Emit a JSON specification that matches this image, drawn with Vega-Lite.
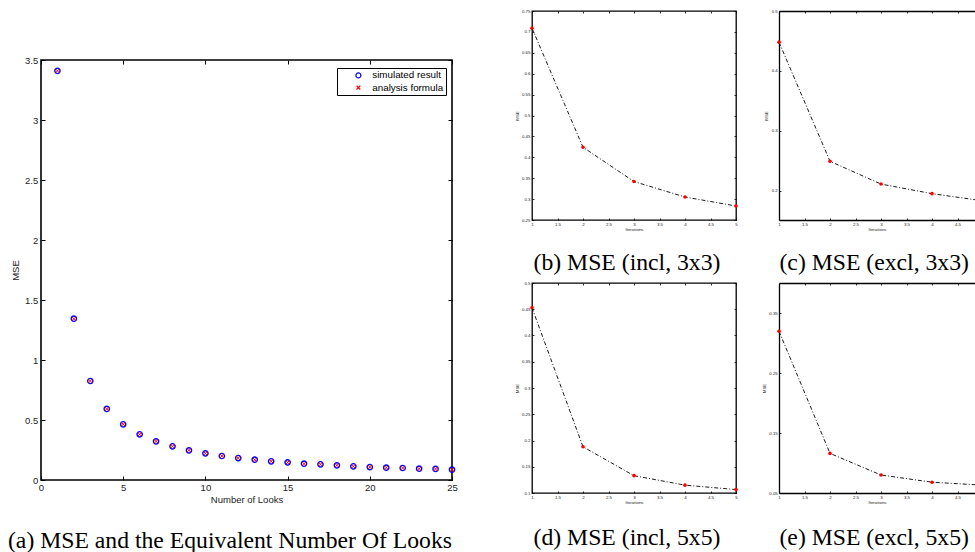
{
  "$schema": "https://vega.github.io/schema/vega-lite/v6.json",
  "padding": {"left": 7, "top": 7, "right": 0, "bottom": 0},
  "background": "white",
  "config": {
    "font": "Liberation Sans",
    "view": {"stroke": "black", "strokeWidth": 1.3},
    "axis": {"grid": false, "domain": false, "labelColor": "#222", "titleColor": "#222", "tickColor": "black", "titleFontWeight": "normal", "labelFlush": false, "labelOverlap": false, "labelFont": "Liberation Sans", "titleFont": "Liberation Sans"},
    "legend": {"symbolOffset": 14},
    "title": {"font": "Liberation Serif", "fontSize": 23.7, "fontWeight": "normal", "color": "black", "orient": "bottom", "frame": "group", "anchor": "middle"}
  },
  "datasets": {
    "looks": [
      {"L": 1, "mse": 3.41, "series": "simulated result"},
      {"L": 2, "mse": 1.344, "series": "simulated result"},
      {"L": 3, "mse": 0.825, "series": "simulated result"},
      {"L": 4, "mse": 0.592, "series": "simulated result"},
      {"L": 5, "mse": 0.464, "series": "simulated result"},
      {"L": 6, "mse": 0.381, "series": "simulated result"},
      {"L": 7, "mse": 0.322, "series": "simulated result"},
      {"L": 8, "mse": 0.281, "series": "simulated result"},
      {"L": 9, "mse": 0.247, "series": "simulated result"},
      {"L": 10, "mse": 0.222, "series": "simulated result"},
      {"L": 11, "mse": 0.2, "series": "simulated result"},
      {"L": 12, "mse": 0.183, "series": "simulated result"},
      {"L": 13, "mse": 0.169, "series": "simulated result"},
      {"L": 14, "mse": 0.156, "series": "simulated result"},
      {"L": 15, "mse": 0.147, "series": "simulated result"},
      {"L": 16, "mse": 0.136, "series": "simulated result"},
      {"L": 17, "mse": 0.131, "series": "simulated result"},
      {"L": 18, "mse": 0.122, "series": "simulated result"},
      {"L": 19, "mse": 0.114, "series": "simulated result"},
      {"L": 20, "mse": 0.108, "series": "simulated result"},
      {"L": 21, "mse": 0.103, "series": "simulated result"},
      {"L": 22, "mse": 0.1, "series": "simulated result"},
      {"L": 23, "mse": 0.094, "series": "simulated result"},
      {"L": 24, "mse": 0.092, "series": "simulated result"},
      {"L": 25, "mse": 0.086, "series": "simulated result"},
      {"L": 1, "mse": 3.41, "series": "analysis formula"},
      {"L": 2, "mse": 1.344, "series": "analysis formula"},
      {"L": 3, "mse": 0.825, "series": "analysis formula"},
      {"L": 4, "mse": 0.592, "series": "analysis formula"},
      {"L": 5, "mse": 0.464, "series": "analysis formula"},
      {"L": 6, "mse": 0.381, "series": "analysis formula"},
      {"L": 7, "mse": 0.322, "series": "analysis formula"},
      {"L": 8, "mse": 0.281, "series": "analysis formula"},
      {"L": 9, "mse": 0.247, "series": "analysis formula"},
      {"L": 10, "mse": 0.222, "series": "analysis formula"},
      {"L": 11, "mse": 0.2, "series": "analysis formula"},
      {"L": 12, "mse": 0.183, "series": "analysis formula"},
      {"L": 13, "mse": 0.169, "series": "analysis formula"},
      {"L": 14, "mse": 0.156, "series": "analysis formula"},
      {"L": 15, "mse": 0.147, "series": "analysis formula"},
      {"L": 16, "mse": 0.136, "series": "analysis formula"},
      {"L": 17, "mse": 0.131, "series": "analysis formula"},
      {"L": 18, "mse": 0.122, "series": "analysis formula"},
      {"L": 19, "mse": 0.114, "series": "analysis formula"},
      {"L": 20, "mse": 0.108, "series": "analysis formula"},
      {"L": 21, "mse": 0.103, "series": "analysis formula"},
      {"L": 22, "mse": 0.1, "series": "analysis formula"},
      {"L": 23, "mse": 0.094, "series": "analysis formula"},
      {"L": 24, "mse": 0.092, "series": "analysis formula"},
      {"L": 25, "mse": 0.086, "series": "analysis formula"}
    ],
    "b": [{"it": 1, "mse": 0.709}, {"it": 2, "mse": 0.424}, {"it": 3, "mse": 0.342}, {"it": 4, "mse": 0.305}, {"it": 5, "mse": 0.2835}],
    "c": [{"it": 1, "mse": 0.448}, {"it": 2, "mse": 0.249}, {"it": 3, "mse": 0.211}, {"it": 4, "mse": 0.195}, {"it": 5, "mse": 0.183}],
    "d": [{"it": 1, "mse": 0.453}, {"it": 2, "mse": 0.188}, {"it": 3, "mse": 0.133}, {"it": 4, "mse": 0.115}, {"it": 5, "mse": 0.1065}],
    "e": [{"it": 1, "mse": 0.3196}, {"it": 2, "mse": 0.116}, {"it": 3, "mse": 0.08}, {"it": 4, "mse": 0.068}, {"it": 5, "mse": 0.063}]
  },
  "bounds": "flush",
  "spacing": 491,
  "hconcat": [
    {
      "bounds": "flush",
      "spacing": 48,
      "vconcat": [
        {"width": 1, "height": 1, "data": {"values": []}, "mark": {"type": "point"}, "encoding": {}, "view": {"stroke": null}},
        {
          "width": 411, "height": 420,
          "view": {"stroke": "black", "strokeWidth": 1.6},
          "data": {"name": "looks"},
          "title": {"text": "(a) MSE and the Equivalent Number Of Looks", "offset": 24.9, "dx": -16.5},
          "layer": [
            {
              "transform": [{"filter": "datum.series == 'simulated result'"}],
              "mark": {"type": "point", "filled": false, "size": 28, "strokeWidth": 1.4, "opacity": 1},
              "encoding": {
                "x": {"field": "L", "type": "quantitative", "scale": {"domain": [0, 25], "nice": false, "zero": false},
                      "axis": {"orient": "bottom", "values": [0, 5, 10, 15, 20, 25], "format": "~g", "labelFontSize": 9.5, "tickSize": -4, "labelPadding": 6.9, "title": "Number of Looks", "titleFontSize": 9.5, "titlePadding": 2.5}},
                "y": {"field": "mse", "type": "quantitative", "scale": {"domain": [0, 3.5], "nice": false, "zero": false},
                      "axis": {"orient": "left", "values": [0, 0.5, 1, 1.5, 2, 2.5, 3, 3.5], "format": ".1~f", "labelFontSize": 9.5, "tickSize": -4, "labelPadding": 7.3, "title": "MSE", "titleFontSize": 9.5, "titlePadding": 3.5}},
                "color": {"field": "series", "type": "nominal", "scale": {"domain": ["simulated result", "analysis formula"], "range": ["#0000ff", "#ff0000"]},
                          "legend": {"orient": "none", "legendX": 296, "legendY": 57, "title": null, "strokeColor": "black", "fillColor": "white", "padding": 2.5, "rowPadding": 1.2, "labelFontSize": 9.8, "labelColor": "black", "symbolOffset": 14, "labelOffset": 9, "symbolSize": 25, "symbolStrokeWidth": 1.2}},
                "shape": {"field": "series", "type": "nominal", "scale": {"domain": ["simulated result", "analysis formula"], "range": ["circle", "M-0.75,-0.75L0.75,0.75M-0.75,0.75L0.75,-0.75"]},
                          "legend": {"orient": "none", "legendX": 296, "legendY": 57, "title": null, "strokeColor": "black", "fillColor": "white", "padding": 2.5, "rowPadding": 1.2, "labelFontSize": 9.8, "labelColor": "black", "symbolOffset": 14, "labelOffset": 9, "symbolSize": 25, "symbolStrokeWidth": 1.2}}
              }
            },
            {
              "transform": [{"filter": "datum.series == 'analysis formula'"}],
              "mark": {"type": "point", "filled": false, "size": 28, "strokeWidth": 1, "opacity": 1},
              "encoding": {
                "x": {"field": "L", "type": "quantitative", "scale": {"domain": [0, 25], "nice": false, "zero": false},
                      "axis": {"orient": "top", "values": [0, 5, 10, 15, 20, 25], "labels": false, "tickSize": -4, "title": null}},
                "y": {"field": "mse", "type": "quantitative", "scale": {"domain": [0, 3.5], "nice": false, "zero": false},
                      "axis": {"orient": "right", "values": [0, 0.5, 1, 1.5, 2, 2.5, 3, 3.5], "labels": false, "tickSize": -4, "title": null}},
                "color": {"field": "series", "type": "nominal", "scale": {"domain": ["simulated result", "analysis formula"], "range": ["#0000ff", "#ff0000"]},
                          "legend": {"orient": "none", "legendX": 296, "legendY": 57, "title": null, "strokeColor": "black", "fillColor": "white", "padding": 2.5, "rowPadding": 1.2, "labelFontSize": 9.8, "labelColor": "black", "symbolOffset": 14, "labelOffset": 9, "symbolSize": 25, "symbolStrokeWidth": 1.2}},
                "shape": {"field": "series", "type": "nominal", "scale": {"domain": ["simulated result", "analysis formula"], "range": ["circle", "M-0.75,-0.75L0.75,0.75M-0.75,0.75L0.75,-0.75"]},
                          "legend": {"orient": "none", "legendX": 296, "legendY": 57, "title": null, "strokeColor": "black", "fillColor": "white", "padding": 2.5, "rowPadding": 1.2, "labelFontSize": 9.8, "labelColor": "black", "symbolOffset": 14, "labelOffset": 9, "symbolSize": 25, "symbolStrokeWidth": 1.2}}
              }
            }
          ]
        }
      ]
    },
    {
      "bounds": "flush",
      "spacing": 272,
      "vconcat": [
        {
          "bounds": "flush",
          "spacing": 43,
          "hconcat": [
            {
              "width": 204, "height": 209,
              "data": {"name": "b"},
              "title": {"text": "(b) MSE (incl, 3x3)", "offset": 20.3, "dx": -7},
              "layer": [
                {
                  "mark": {"type": "line", "color": "black", "strokeWidth": 0.9, "strokeDash": [4, 2, 1, 2]},
                  "encoding": {
                    "x": {"field": "it", "type": "quantitative", "scale": {"domain": [1, 5], "nice": false, "zero": false},
                          "axis": {"orient": "bottom", "values": [1, 1.5, 2, 2.5, 3, 3.5, 4, 4.5, 5], "format": ".1~f", "labelFontSize": 4.4, "labelOverlap": false, "tickSize": -2, "tickWidth": 0.8, "labelPadding": 4.2, "title": "Iterations", "titleFontSize": 4.4, "titlePadding": 1.6}},
                    "y": {"field": "mse", "type": "quantitative", "scale": {"domain": [0.25, 0.75], "nice": false, "zero": false},
                          "axis": {"orient": "left", "values": [0.25, 0.3, 0.35, 0.4, 0.45, 0.5, 0.55, 0.6, 0.65, 0.7, 0.75], "format": ".2~f", "labelFontSize": 4.4, "labelOverlap": false, "tickSize": -2, "tickWidth": 0.8, "labelPadding": 4, "title": "MSE", "titleFontSize": 4.4, "titlePadding": 2.4}}
                  }
                },
                {
                  "mark": {"type": "point", "filled": true, "color": "#ff0000", "size": 13, "opacity": 1},
                  "encoding": {
                    "x": {"field": "it", "type": "quantitative", "scale": {"domain": [1, 5], "nice": false, "zero": false},
                          "axis": {"orient": "top", "values": [1, 1.5, 2, 2.5, 3, 3.5, 4, 4.5, 5], "labels": false, "tickSize": -2, "tickWidth": 0.8, "title": null}},
                    "y": {"field": "mse", "type": "quantitative", "scale": {"domain": [0.25, 0.75], "nice": false, "zero": false},
                          "axis": {"orient": "right", "values": [0.25, 0.3, 0.35, 0.4, 0.45, 0.5, 0.55, 0.6, 0.65, 0.7, 0.75], "labels": false, "tickSize": -2, "tickWidth": 0.8, "title": null}}
                  }
                }
              ]
            },
            {
              "width": 196, "height": 209,
              "view": {"stroke": null},
              "data": {"name": "c"},
              "title": {"text": "(c) MSE (excl, 3x3)", "offset": 20.3, "dx": -2.8},
              "layer": [
                {
                  "mark": {"type": "line", "color": "black", "strokeWidth": 0.9, "strokeDash": [4, 2, 1, 2], "clip": true},
                  "encoding": {
                    "x": {"field": "it", "type": "quantitative", "scale": {"domain": [1, 4.843], "nice": false, "zero": false},
                          "axis": {"orient": "bottom", "values": [1, 1.5, 2, 2.5, 3, 3.5, 4, 4.5], "format": ".1~f", "labelFontSize": 4.4, "labelOverlap": false, "tickSize": -2, "tickWidth": 0.8, "labelPadding": 4.2, "title": "Iterations", "titleFontSize": 4.4, "titlePadding": 1.6, "domain": true, "domainColor": "black", "domainWidth": 1.3}},
                    "y": {"field": "mse", "type": "quantitative", "scale": {"domain": [0.151, 0.5], "nice": false, "zero": false},
                          "axis": {"orient": "left", "values": [0.2, 0.25, 0.3, 0.35, 0.4, 0.45, 0.5], "format": ".2~f", "labelFontSize": 4.4, "labelOverlap": false, "tickSize": -2, "tickWidth": 0.8, "labelPadding": 3.7, "title": "MSE", "titleFontSize": 4.4, "titlePadding": 2.4, "domain": true, "domainColor": "black", "domainWidth": 1.3}}
                  }
                },
                {
                  "transform": [{"filter": "datum.it < 5"}],
                  "mark": {"type": "point", "filled": true, "color": "#ff0000", "size": 13, "opacity": 1},
                  "encoding": {
                    "x": {"field": "it", "type": "quantitative", "scale": {"domain": [1, 4.843], "nice": false, "zero": false},
                          "axis": {"orient": "top", "values": [1, 1.5, 2, 2.5, 3, 3.5, 4, 4.5], "labels": false, "tickSize": -2, "tickWidth": 0.8, "title": null, "domain": true, "domainColor": "black", "domainWidth": 1.3}},
                    "y": {"field": "mse", "type": "quantitative", "scale": {"domain": [0.151, 0.5], "nice": false, "zero": false}}
                  }
                }
              ]
            }
          ]
        },
        {
          "bounds": "flush",
          "spacing": 43,
          "hconcat": [
            {
              "width": 204, "height": 210,
              "data": {"name": "d"},
              "title": {"text": "(d) MSE (incl, 5x5)", "offset": 22.3, "dx": -7},
              "layer": [
                {
                  "mark": {"type": "line", "color": "black", "strokeWidth": 0.9, "strokeDash": [4, 2, 1, 2]},
                  "encoding": {
                    "x": {"field": "it", "type": "quantitative", "scale": {"domain": [1, 5], "nice": false, "zero": false},
                          "axis": {"orient": "bottom", "values": [1, 1.5, 2, 2.5, 3, 3.5, 4, 4.5, 5], "format": ".1~f", "labelFontSize": 4.4, "labelOverlap": false, "tickSize": -2, "tickWidth": 0.8, "labelPadding": 4.2, "title": "Iterations", "titleFontSize": 4.4, "titlePadding": 1.6}},
                    "y": {"field": "mse", "type": "quantitative", "scale": {"domain": [0.1, 0.5], "nice": false, "zero": false},
                          "axis": {"orient": "left", "values": [0.1, 0.15, 0.2, 0.25, 0.3, 0.35, 0.4, 0.45, 0.5], "format": ".2~f", "labelFontSize": 4.4, "labelOverlap": false, "tickSize": -2, "tickWidth": 0.8, "labelPadding": 4, "title": "MSE", "titleFontSize": 4.4, "titlePadding": 2.4}}
                  }
                },
                {
                  "mark": {"type": "point", "filled": true, "color": "#ff0000", "size": 13, "opacity": 1},
                  "encoding": {
                    "x": {"field": "it", "type": "quantitative", "scale": {"domain": [1, 5], "nice": false, "zero": false},
                          "axis": {"orient": "top", "values": [1, 1.5, 2, 2.5, 3, 3.5, 4, 4.5, 5], "labels": false, "tickSize": -2, "tickWidth": 0.8, "title": null}},
                    "y": {"field": "mse", "type": "quantitative", "scale": {"domain": [0.1, 0.5], "nice": false, "zero": false},
                          "axis": {"orient": "right", "values": [0.1, 0.15, 0.2, 0.25, 0.3, 0.35, 0.4, 0.45, 0.5], "labels": false, "tickSize": -2, "tickWidth": 0.8, "title": null}}
                  }
                }
              ]
            },
            {
              "width": 196, "height": 210,
              "view": {"stroke": null},
              "data": {"name": "e"},
              "title": {"text": "(e) MSE (excl, 5x5)", "offset": 22.3, "dx": -2.8},
              "layer": [
                {
                  "mark": {"type": "line", "color": "black", "strokeWidth": 0.9, "strokeDash": [4, 2, 1, 2], "clip": true},
                  "encoding": {
                    "x": {"field": "it", "type": "quantitative", "scale": {"domain": [1, 4.843], "nice": false, "zero": false},
                          "axis": {"orient": "bottom", "values": [1, 1.5, 2, 2.5, 3, 3.5, 4, 4.5], "format": ".1~f", "labelFontSize": 4.4, "labelOverlap": false, "tickSize": -2, "tickWidth": 0.8, "labelPadding": 4.2, "title": "Iterations", "titleFontSize": 4.4, "titlePadding": 1.6, "domain": true, "domainColor": "black", "domainWidth": 1.3}},
                    "y": {"field": "mse", "type": "quantitative", "scale": {"domain": [0.05, 0.4], "nice": false, "zero": false},
                          "axis": {"orient": "left", "values": [0.05, 0.1, 0.15, 0.2, 0.25, 0.3, 0.35, 0.4], "format": ".2~f", "labelFontSize": 4.4, "labelOverlap": false, "tickSize": -2, "tickWidth": 0.8, "labelPadding": 3.7, "title": "MSE", "titleFontSize": 4.4, "titlePadding": 2.4, "domain": true, "domainColor": "black", "domainWidth": 1.3}}
                  }
                },
                {
                  "transform": [{"filter": "datum.it < 5"}],
                  "mark": {"type": "point", "filled": true, "color": "#ff0000", "size": 13, "opacity": 1},
                  "encoding": {
                    "x": {"field": "it", "type": "quantitative", "scale": {"domain": [1, 4.843], "nice": false, "zero": false},
                          "axis": {"orient": "top", "values": [1, 1.5, 2, 2.5, 3, 3.5, 4, 4.5], "labels": false, "tickSize": -2, "tickWidth": 0.8, "title": null, "domain": true, "domainColor": "black", "domainWidth": 1.3}},
                    "y": {"field": "mse", "type": "quantitative", "scale": {"domain": [0.05, 0.4], "nice": false, "zero": false}}
                  }
                }
              ]
            }
          ]
        }
      ]
    }
  ]
}
